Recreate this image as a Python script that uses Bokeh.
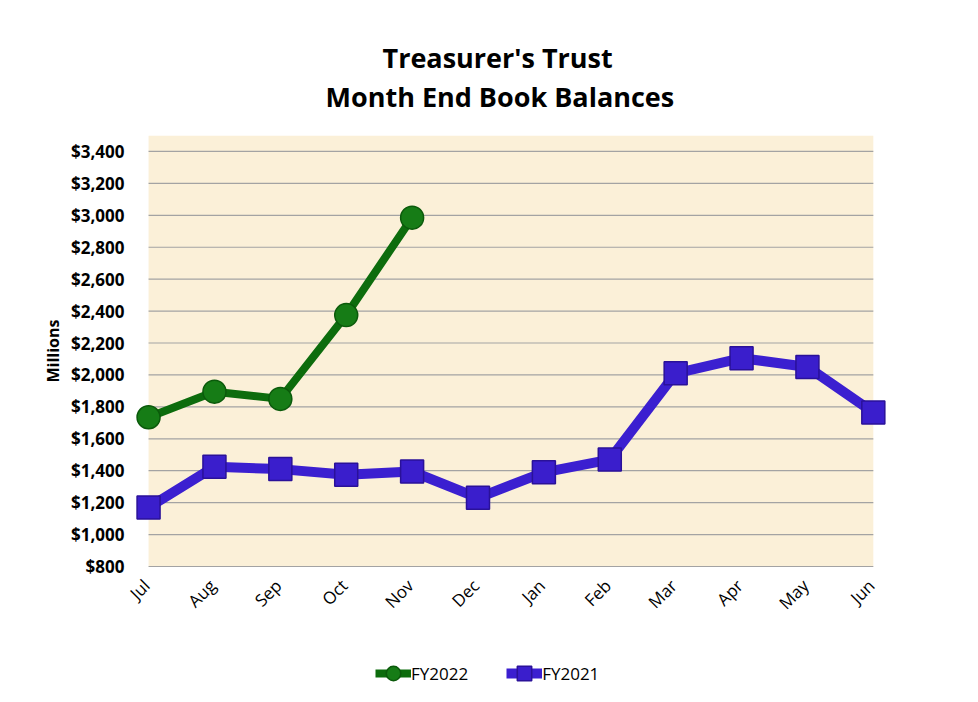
import math
from bokeh.plotting import figure
from bokeh.models import (Legend, LegendItem, Title, BoxAnnotation, FixedTicker,
                          NumeralTickFormatter, Range1d)
from bokeh.core.properties import value
from bokeh.embed import file_html
from bokeh.resources import INLINE

months = ["Jul", "Aug", "Sep", "Oct", "Nov", "Dec", "Jan", "Feb", "Mar", "Apr", "May", "Jun"]
fy2022 = [1735, 1895, 1850, 2375, 2985]
fy2021 = [1170, 1425, 1410, 1375, 1395, 1230, 1390, 1470, 2010, 2105, 2050, 1765]
y_ticks = [800, 1000, 1200, 1400, 1600, 1800, 2000, 2200, 2400, 2600, 2800, 3000, 3200, 3400]

FONT = "Open Sans"
x22 = list(range(len(fy2022)))
x21 = list(range(len(fy2021)))

# the frame also holds the month labels and the legend below the plot area
p = figure(frame_width=761, frame_height=559, x_range=Range1d(-0.35, 11.2), y_range=Range1d(-2, 3500),
           output_backend="svg", toolbar_location=None, title=None,
           min_border_left=125, min_border_right=84, min_border_top=135, min_border_bottom=0)
p.background_fill_color = "white"
p.border_fill_color = "white"
p.outline_line_color = None
p.xgrid.grid_line_color = None
p.ygrid.grid_line_color = None

# parchment plot area
p.add_layout(BoxAnnotation(left=0, right=len(months) - 1, bottom=y_ticks[0], fill_color="#fbf0d8",
                           fill_alpha=1, line_color=None, level="underlay"))
# horizontal gridlines across the plot area only
p.segment(x0=[0] * len(y_ticks), x1=[len(months) - 1] * len(y_ticks), y0=y_ticks, y1=y_ticks,
          line_color="#a3a3a3", line_width=1.2)

l21 = p.line(x21, fy2021, line_color="#3b1fd0", line_width=10)
s21 = p.scatter(x21, fy2021, marker="square", size=23, fill_color="#3a1ecc", line_color="#2a1199",
                line_width=1.5)
l22 = p.line(x22, fy2022, line_color="#0d6c0d", line_width=8)
s22 = p.scatter(x22, fy2022, marker="circle", size=23, fill_color="#167c16", line_color="#0b5a0b",
                line_width=1.5)

# month labels (category axis), rotated 45 degrees
p.text(x=x21, y=[y_ticks[0]] * len(months), text=months, angle=math.pi / 4,
       text_align="right", text_baseline="middle", y_offset=16, x_offset=-2,
       text_font=value(FONT), text_font_style="normal", text_font_size="17px", text_color="black")
p.xaxis.visible = False

# y axis
p.yaxis.ticker = FixedTicker(ticks=y_ticks)
p.yaxis.formatter = NumeralTickFormatter(format="$0,0")
p.yaxis.axis_line_color = None
p.yaxis.major_tick_line_color = None
p.yaxis.minor_tick_line_color = None
p.yaxis.major_label_text_font = FONT
p.yaxis.major_label_text_font_style = "bold"
p.yaxis.major_label_text_font_size = "17px"
p.yaxis.major_label_text_color = "black"
p.yaxis.major_label_standoff = -5

ylab = Title(text="Millions", align="left", offset=312, standoff=10,
             text_font=FONT, text_font_size="16px", text_font_style="bold", text_color="black")
p.add_layout(ylab, "left")

# titles (spacer closest to the frame, then line 2, then line 1)
t0 = Title(text=" ", text_font=FONT, text_font_size="14px", standoff=0)
t2 = Title(text="Month End Book Balances", align="left", offset=200, standoff=0,
           text_font=FONT, text_font_size="27px", text_font_style="bold", text_color="black")
t1 = Title(text="Treasurer's Trust", align="left", offset=257, standoff=0,
           text_font=FONT, text_font_size="27px", text_font_style="bold", text_color="black")
p.add_layout(t0, "above")
p.add_layout(t2, "above")
p.add_layout(t1, "above")

legend = Legend(items=[LegendItem(label="FY2022", renderers=[l22, s22]),
                       LegendItem(label="FY2021", renderers=[l21, s21])],
                orientation="horizontal", location=(250, 0),
                label_text_font=FONT, label_text_font_style="normal", label_text_font_size="17px",
                label_text_color="black", border_line_color=None, background_fill_alpha=0,
                glyph_width=36, glyph_height=42, spacing=38, label_standoff=0, padding=10, margin=0)
p.add_layout(legend, "center")

open("out.html", "w").write(file_html(p, INLINE))
